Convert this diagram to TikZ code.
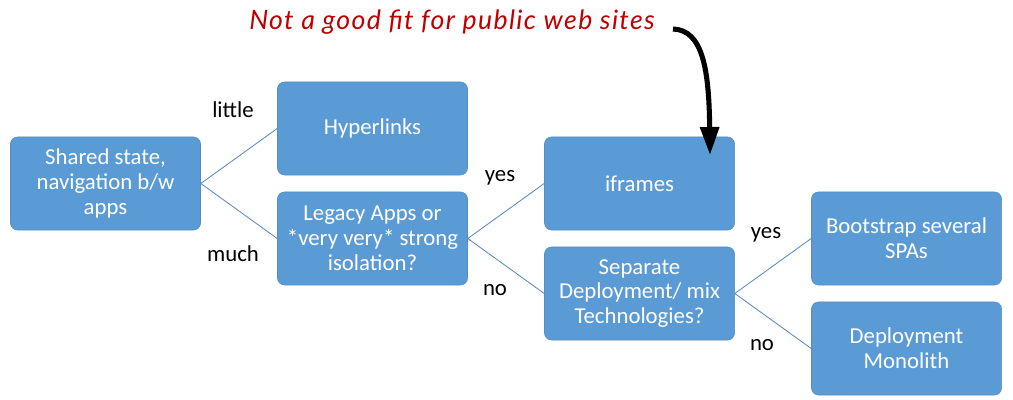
\documentclass[tikz,border=0pt]{standalone}
\usepackage{fontspec}
\setmainfont{Carlito}
\newfontfamily\notefont[LetterSpace=5]{Lato}
\usetikzlibrary{positioning,arrows.meta,calc}
\definecolor{boxblue}{RGB}{91,155,213}
\definecolor{boxedge}{RGB}{84,141,196}
\definecolor{linkblue}{RGB}{88,138,196}
\definecolor{notered}{RGB}{192,0,0}

\begin{document}
\begin{tikzpicture}[
    x=0.025cm, y=-0.025cm,
    font=\fontsize{16.2}{17.6}\selectfont,
    box/.style={draw=boxedge, fill=boxblue, rounded corners=5pt, align=center,
                text=white, minimum width=47.5mm, minimum height=23.25mm,
                inner sep=3pt},
    link/.style={linkblue, line width=0.6pt},
    tag/.style={text=black, inner sep=1pt},
    hand/.style={line width=3.6pt, -{Triangle[length=7mm, width=4.6mm]}},
  ]
  \useasboundingbox (0,0) rectangle (1013,400);
  % --- grid geometry (pixel units, y pointing down) ---
  \def\colA{105.5} \def\colB{372.5} \def\colC{639.5} \def\colD{906.5}
  \def\rowA{128.5} \def\rowB{183.5} \def\rowC{238.5}
  \def\rowD{293.5} \def\rowE{348.5}

  % --- column 1: starting question ---
  \node[box] (state) at (\colA,\rowB) {Shared state,\\navigation b/w\\apps};

  % --- column 2 ---
  \node[box] (links)  at (\colB,\rowA) {Hyperlinks};
  \node[box] (legacy) at (\colB,\rowC) {Legacy Apps or\\*very very* strong\\isolation?};

  % --- column 3 ---
  \node[box] (iframes)  at (\colC,\rowB) {iframes};
  \node[box] (separate) at (\colC,\rowD) {Separate\\Deployment/ mix\\Technologies?};

  % --- column 4 ---
  \node[box] (several)  at (\colD,\rowC) {Bootstrap several\\SPAs};
  \node[box] (monolith) at (\colD,\rowE) {Deployment\\Monolith};

  % --- decision branches ---
  \draw[link] (state.east) -- (links.west);
  \draw[link] (state.east) -- (legacy.west);
  \draw[link] (legacy.east) -- (iframes.west);
  \draw[link] (legacy.east) -- (separate.west);
  \draw[link] (separate.east) -- (several.west);
  \draw[link] (separate.east) -- (monolith.west);

  % --- branch labels ---
  \node[tag] (little) at (233,110) {little};
  \node[tag] (much)   at (233,254) {much};
  \node[tag] (yesA)   at (500,178) {yes};
  \node[tag] (noA)    at (495,290) {no};
  \node[tag] (yesB)   at (766,235) {yes};
  \node[tag] (noB)    at (762,345) {no};

  % --- hand-written remark pointing at iframes ---
  \node[font=\notefont\fontsize{19}{21}\selectfont\itshape, text=notered]
    (note) at (452,22) {Not a good fit for public web sites};
  \coordinate (tip) at (710,155);
  \draw[hand] (673,29) .. controls (703,30) and (709,70) .. (tip);
\end{tikzpicture}
\end{document}
